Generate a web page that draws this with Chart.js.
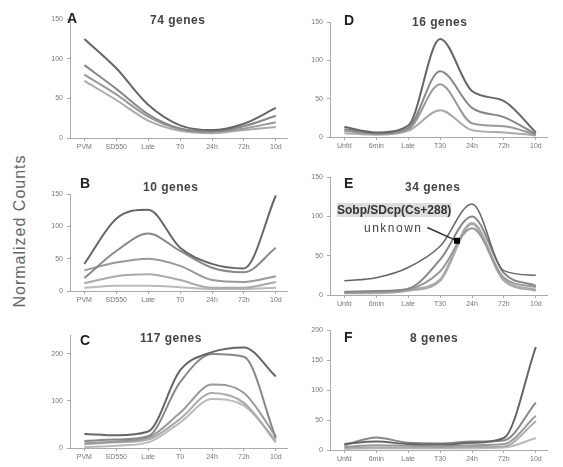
<html>
<head>
<title>Expression clusters</title>
<script src="https://cdn.jsdelivr.net/npm/chart.js"></script>
<style>
  body { margin: 0; background: #fff; font-family: "Liberation Sans", Arial, sans-serif; }
  #page { position: relative; width: 563px; height: 467px; overflow: hidden; }
  .panel { position: absolute; }
  .lbl { position: absolute; font-weight: bold; color: #333; white-space: nowrap; }
  .letter { font-size: 14px; color: #222; }
  .genes { font-size: 12px; color: #444; letter-spacing: 0.5px; }
  #ytitle { position: absolute; left: 20px; top: 231px; transform: translate(-50%, -50%) rotate(-90deg);
            font-size: 16px; color: #666; letter-spacing: 1px; white-space: nowrap; }
</style>
</head>
<body>
<div id="page">
  <div id="ytitle">Normalized Counts</div>

  <div class="panel" style="left:42px; top:11px; width:249px; height:143px;"><canvas id="chartA"></canvas></div>
  <div class="panel" style="left:302px; top:14px; width:249px; height:139px;"><canvas id="chartD"></canvas></div>
  <div class="panel" style="left:42px; top:186px; width:249px; height:121px;"><canvas id="chartB"></canvas></div>
  <div class="panel" style="left:302px; top:169px; width:249px; height:142px;"><canvas id="chartE"></canvas></div>
  <div class="panel" style="left:42px; top:327px; width:249px; height:137px;"><canvas id="chartC"></canvas></div>
  <div class="panel" style="left:302px; top:322px; width:249px; height:144px;"><canvas id="chartF"></canvas></div>

  <div class="lbl letter" style="left:67px; top:10px;">A</div>
  <div class="lbl genes" style="left:150px; top:13px;">74 genes</div>
  <div class="lbl letter" style="left:344px; top:12px;">D</div>
  <div class="lbl genes" style="left:412px; top:15px;">16 genes</div>
  <div class="lbl letter" style="left:80px; top:175px;">B</div>
  <div class="lbl genes" style="left:143px; top:180px;">10 genes</div>
  <div class="lbl letter" style="left:344px; top:175px;">E</div>
  <div class="lbl genes" style="left:405px; top:180px;">34 genes</div>
  <div class="lbl letter" style="left:80px; top:332px;">C</div>
  <div class="lbl genes" style="left:140px; top:331px;">117 genes</div>
  <div class="lbl letter" style="left:344px; top:329px;">F</div>
  <div class="lbl genes" style="left:410px; top:331px;">8 genes</div>

  <div class="lbl" style="left:337px; top:203px; font-size:12px; color:#333; background:#ddd;">Sobp/SDcp(Cs+288)</div>
  <div class="lbl" style="left:364px; top:221px; font-size:12px; font-weight:normal; letter-spacing:1.5px; color:#444;">unknown</div>
</div>

<script>
// tick labels (time points)
var labelsLeft = ["PVM", "SD550", "Late", "T0", "24h", "72h", "10d"];
var labelsRight = ["Unfd", "6min", "Late", "T30", "24h", "72h", "10d"];

// A - 74 genes
var a1 = [125, 88, 42, 16, 10, 18, 38];
var a2 = [92, 62, 30, 12, 8, 15, 28];
var a3 = [80, 55, 27, 11, 8, 12, 20];
var a4 = [72, 48, 22, 9, 6, 10, 14];

// B - 10 genes
var b1 = [42, 112, 126, 67, 42, 35, 148];
var b2 = [20, 62, 89, 62, 36, 29, 67];
var b3 = [32, 44, 50, 39, 17, 14, 23];
var b4 = [12, 23, 26, 17, 5, 5, 14];
var b5 = [5, 8, 8, 6, 3, 3, 5];

// C - 117 genes
var c1 = [30, 27, 35, 165, 204, 214, 152];
var c2 = [15, 18, 25, 140, 200, 194, 21];
var c3 = [10, 14, 22, 75, 135, 117, 25];
var c4 = [8, 12, 18, 62, 117, 96, 12];
var c5 = [2, 5, 12, 54, 104, 90, 17];

// D - 16 genes
var d1 = [13, 6, 15, 128, 60, 47, 6];
var d2 = [10, 5, 12, 86, 38, 26, 4];
var d3 = [8, 4, 10, 69, 18, 14, 3];
var d4 = [5, 3, 8, 35, 9, 6, 2];

// E - 34 genes
var e1 = [18, 22, 35, 62, 116, 31, 25];
var e2 = [4, 5, 8, 45, 100, 28, 12];
var e3 = [3, 4, 7, 30, 85, 22, 10];
var e4 = [3, 3, 6, 19, 91, 19, 6];

// F - 8 genes
var f1 = [10, 14, 10, 9, 12, 20, 172];
var f2 = [8, 21, 12, 11, 14, 16, 79];
var f3 = [5, 8, 7, 6, 8, 10, 57];
var f4 = [3, 4, 4, 4, 5, 6, 48];
var f5 = [2, 3, 3, 3, 3, 4, 20];

// arrow in panel E (index, value)
var arrowFrom = [2.6, 86];
var arrowTo = [3.53, 69];

var greys = ["#666", "#888", "#999", "#aaa", "#bbb"];

function toPoints(values) {
    return values.map(function (v, i) { return { x: i, y: v }; });
}

var arrowPlugin = {
    id: 'arrowE',
    afterDatasetsDraw: function (chart) {
        if (chart.canvas.id != 'chartE') return;
        var x = chart.scales.x, y = chart.scales.y, ctx = chart.ctx;
        var x0 = x.getPixelForValue(arrowFrom[0]), y0 = y.getPixelForValue(arrowFrom[1]);
        var x1 = x.getPixelForValue(arrowTo[0]), y1 = y.getPixelForValue(arrowTo[1]);
        ctx.save();
        ctx.strokeStyle = '#333';
        ctx.lineWidth = 1.5;
        ctx.beginPath();
        ctx.moveTo(x0, y0);
        ctx.lineTo(x1, y1);
        ctx.stroke();
        ctx.fillStyle = '#000';
        ctx.fillRect(x1 - 3, y1 - 3, 6, 6);
        ctx.restore();
    }
};

function makePanel(id, labels, series, yMax, yStep, widths) {
    var datasets = series.map(function (s, i) {
        return {
            data: toPoints(s),
            borderColor: greys[i % greys.length],
            borderWidth: widths ? widths[i] : 2,
            pointRadius: 0,
            fill: false,
            cubicInterpolationMode: 'monotone'
        };
    });
    new Chart(document.getElementById(id), {
        type: 'line',
        data: { datasets: datasets },
        plugins: [arrowPlugin],
        options: {
            responsive: true,
            maintainAspectRatio: false,
            animation: false,
            layout: { padding: { top: 6, right: 4, left: 0, bottom: 0 } },
            plugins: { legend: { display: false }, tooltip: { enabled: false } },
            scales: {
                x: {
                    type: 'linear',
                    min: -0.45,
                    max: 6.35,
                    afterBuildTicks: function (axis) {
                        axis.ticks = labels.map(function (l, i) { return { value: i }; });
                    },
                    afterFit: function (axis) { axis.height = 16; },
                    ticks: {
                        autoSkip: false,
                        maxRotation: 0,
                        padding: 2,
                        color: '#777',
                        font: { size: 7, family: 'Liberation Sans' },
                        callback: function (v) { return labels[v]; }
                    },
                    grid: { drawOnChartArea: false, tickLength: 3, color: '#aaa' },
                    border: { color: '#aaa' }
                },
                y: {
                    min: 0,
                    max: yMax,
                    afterBuildTicks: function (axis) {
                        axis.ticks = axis.ticks.filter(function (t) { return t.value % yStep == 0; });
                    },
                    afterFit: function (axis) { axis.width = 28; },
                    ticks: {
                        stepSize: yStep,
                        padding: 4,
                        color: '#777',
                        font: { size: 7, family: 'Liberation Sans' }
                    },
                    grid: { drawOnChartArea: false, tickLength: 3, color: '#aaa' },
                    border: { color: '#aaa' }
                }
            }
        }
    });
}

makePanel('chartA', labelsLeft, [a1, a2, a3, a4], 150, 50);
makePanel('chartB', labelsLeft, [b1, b2, b3, b4, b5], 150, 50);
makePanel('chartC', labelsLeft, [c1, c2, c3, c4, c5], 240, 100);
makePanel('chartD', labelsRight, [d1, d2, d3, d4], 150, 50);
makePanel('chartE', labelsRight, [e1, e2, e3, e4], 150, 50, [1.5, 2, 2, 3]);
makePanel('chartF', labelsRight, [f1, f2, f3, f4, f5], 200, 50);
</script>
</body>
</html>
